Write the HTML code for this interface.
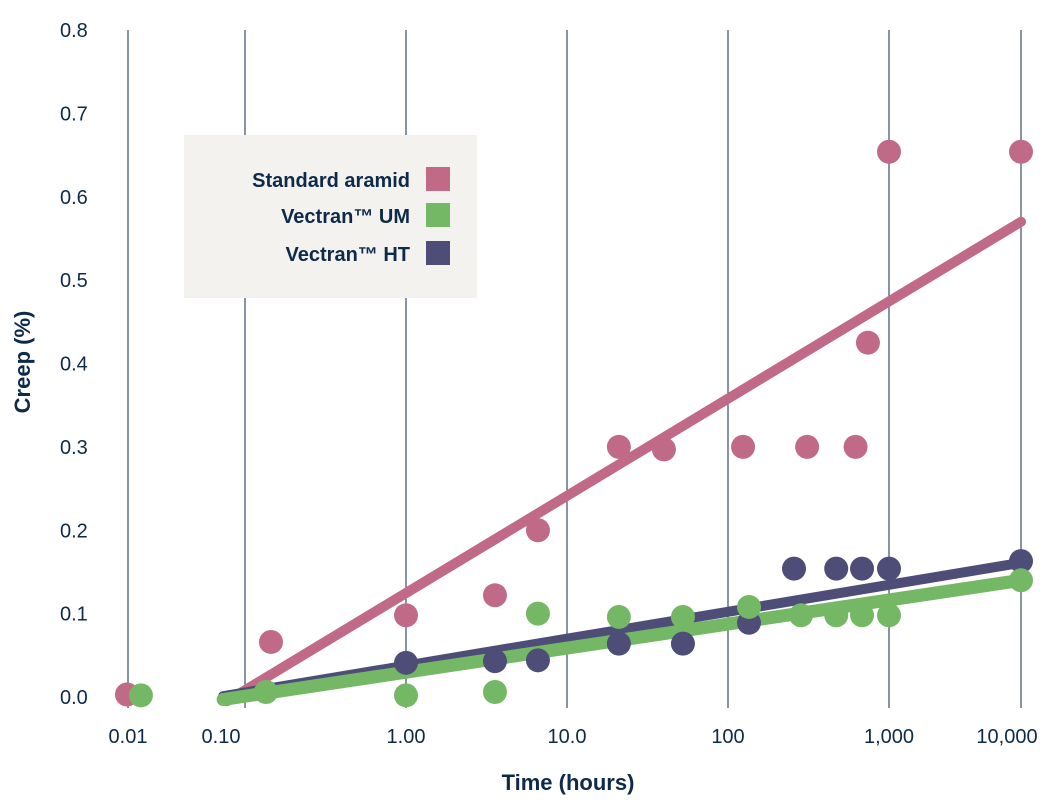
<!DOCTYPE html>
<html><head><meta charset="utf-8"><style>
body{margin:0;background:#fff;}
svg text{font-family:"Liberation Sans",sans-serif;fill:#0d2a4a;}
</style></head><body>
<svg id="chart" width="1053" height="798" xmlns="http://www.w3.org/2000/svg">
<g id="grid"></g>
<g id="ylab"></g>
<g id="xlab"></g>
<text transform="translate(30,362) rotate(-90)" text-anchor="middle" font-size="22" font-weight="bold">Creep (%)</text>
<text x="568" y="790" text-anchor="middle" font-size="22" font-weight="bold">Time (hours)</text>
<g id="lines"></g>
<g id="pts"></g>
<g>
<rect x="184" y="135" width="293" height="163" fill="#f3f2ee"/>
<text x="410" y="187" text-anchor="end" font-size="20" font-weight="bold">Standard aramid</text>
<rect x="426" y="167" width="24" height="24" fill="#c06a87"/>
<text x="410" y="223" text-anchor="end" font-size="20" font-weight="bold">Vectran™ UM</text>
<rect x="426" y="203" width="24" height="24" fill="#74b866"/>
<text x="410" y="261" text-anchor="end" font-size="20" font-weight="bold">Vectran™ HT</text>
<rect x="426" y="241" width="24" height="24" fill="#4d4d78"/>
</g>
</svg>
<script>
const xTicks=[0.01,0.1,1,10,100,1000,10000];
const xTickLabels=["0.01","0.10","1.00","10.0","100","1,000","10,000"];
const yTicks=[0,0.1,0.2,0.3,0.4,0.5,0.6,0.7,0.8];
const yTickLabels=["0.0","0.1","0.2","0.3","0.4","0.5","0.6","0.7","0.8"];
const aramidX=[0.0098,0.145,1,3.57,6.6,21,40,124,310,620,740,1000,10000];
const aramidY=[0.003,0.066,0.098,0.122,0.2,0.3,0.297,0.3,0.3,0.3,0.425,0.654,0.654];
const umX=[0.0129,0.135,1,3.57,6.6,21,52.5,135,284,470,680,1000,10000];
const umY=[0.002,0.006,0.002,0.006,0.1,0.096,0.096,0.108,0.098,0.098,0.098,0.098,0.14];
const htX=[1,3.57,6.6,21,52.5,135,257,470,680,1000,10000];
const htY=[0.041,0.043,0.044,0.064,0.064,0.089,0.154,0.154,0.154,0.154,0.163];
const aramidTrend=[[0.07,-0.005],[10000,0.57]];
const umTrend=[[0.065,-0.003],[10000,0.14]];
const htTrend=[[0.065,0.001],[10000,0.161]];
const gridPx=[128,245,406,567,728,889,1021];
function xs(v){const l=Math.log10(v);let i=Math.floor(l+2);i=Math.max(0,Math.min(5,i));return gridPx[i]+(l-(i-2))*(gridPx[i+1]-gridPx[i]);}
function ys(v){return 697-v*833.75;}
const NS="http://www.w3.org/2000/svg";
function mk(t,a,p){const e=document.createElementNS(NS,t);for(const k in a)e.setAttribute(k,a[k]);p.appendChild(e);return e;}
const g=document.getElementById('grid'),yl=document.getElementById('ylab'),xl=document.getElementById('xlab');
xTicks.forEach((t,i)=>{const l=mk('line',{x1:xs(t),x2:xs(t),y1:30,y2:708,stroke:'#0d2a4a','stroke-width':1},g);


const lx=i==1?221:(i==6?1007:xs(t));
const tx=mk('text',{x:lx,y:743,'text-anchor':'middle','font-size':20},xl);tx.textContent=xTickLabels[i];

});
yTicks.forEach((t,i)=>{const tx=mk('text',{x:60,y:ys(t)+7,'font-size':20},yl);tx.textContent=yTickLabels[i];

});
const L=document.getElementById('lines'),P=document.getElementById('pts');
function line(tr,c,w,n){const l=mk('line',{x1:xs(tr[0][0]),y1:ys(tr[0][1]),x2:xs(tr[1][0]),y2:ys(tr[1][1]),stroke:c,'stroke-width':w,'stroke-linecap':'round'},L);

}
function pts(X,Y,c,n){X.forEach((x,i)=>{const e=mk('circle',{cx:xs(x),cy:ys(Y[i]),r:12,fill:c},P);

});}
line(aramidTrend,'#c06a87',10,'trend-aramid');
line(htTrend,'#4d4d78',10,'trend-ht');
line(umTrend,'#74b866',13,'trend-um');
pts(aramidX,aramidY,'#c06a87','point-aramid');
pts(htX,htY,'#4d4d78','point-ht');
pts(umX,umY,'#74b866','point-um');
</script>
</body></html>
